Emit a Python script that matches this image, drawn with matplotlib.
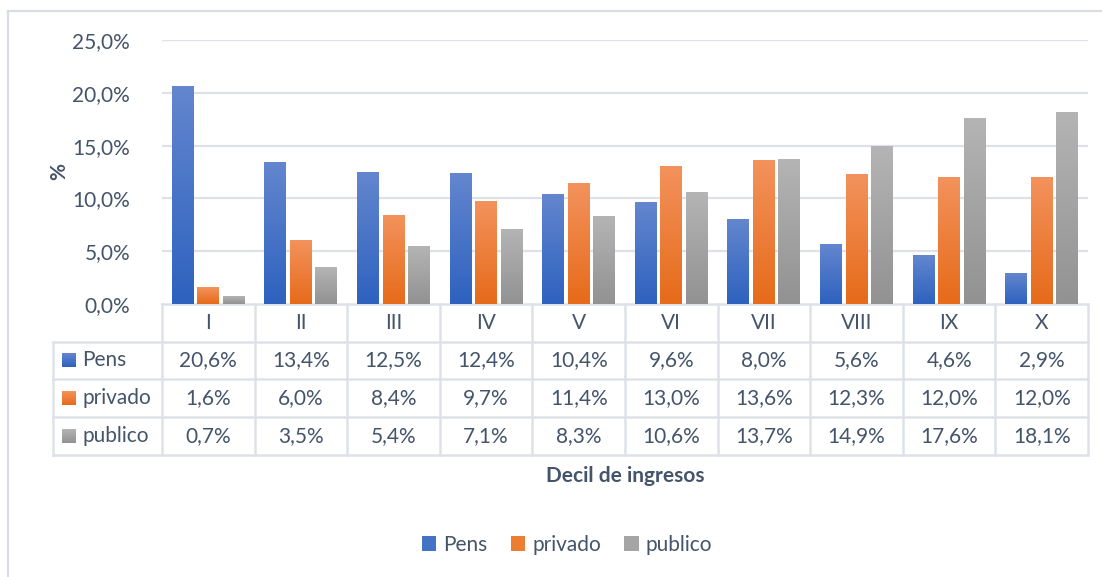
import numpy as np
import matplotlib
matplotlib.use("Agg")
import matplotlib.pyplot as plt
from matplotlib.transforms import blended_transform_factory
from matplotlib.lines import Line2D
from matplotlib.patches import Rectangle

categories = ["I", "II", "III", "IV", "V", "VI", "VII", "VIII", "IX", "X"]
series_names = ["Pens", "privado", "publico"]
pens = [20.6, 13.4, 12.5, 12.4, 10.4, 9.6, 8.0, 5.6, 4.6, 2.9]
privado = [1.6, 6.0, 8.4, 9.7, 11.4, 13.0, 13.6, 12.3, 12.0, 12.0]
publico = [0.7, 3.5, 5.4, 7.1, 8.3, 10.6, 13.7, 14.9, 17.6, 18.1]
yticks = [0, 5, 10, 15, 20, 25]

series = [pens, privado, publico]
grads = [("#6386CE", "#2E62BF"), ("#F3925C", "#E66B1A"), ("#B4B4B4", "#929292")]
mids = ["#4472C4", "#ED7D31", "#A5A5A5"]
TXT = "#44546A"
GRID = "#DEE2E8"
FONT = ["Lato", "DejaVu Sans"]
FS = 15

plt.rcParams['font.family'] = FONT

W, H = 1102, 577
fig = plt.figure(figsize=(W / 100, H / 100), dpi=100)

def fx(px):
    return px / W

def fy(py):
    return 1 - py / H

def grad(ctop, cbot, nsteps=64):
    ct = np.array(matplotlib.colors.to_rgb(ctop))
    cb = np.array(matplotlib.colors.to_rgb(cbot))
    t = np.linspace(0, 1, nsteps)[:, None]
    return (ct[None, :] * (1 - t) + cb[None, :] * t)[:, None, :]

ax = fig.add_axes([fx(162), fy(304), fx(1088) - fx(162), fy(40) - fy(304)])
n = len(categories)
x = np.arange(n)
bw = 0.237
off = 0.275

for k, vals in enumerate(series):
    bars = ax.bar(x + (k - 1) * off, vals, width=bw, color="none",
                  edgecolor="none", zorder=3)
    img = grad(*grads[k])
    for b in bars:
        x0 = b.get_x()
        ax.imshow(img, extent=(x0, x0 + b.get_width(), 0, b.get_height()),
                  origin="upper", aspect="auto", interpolation="bilinear",
                  zorder=3)

ax.set_xlim(-0.5, n - 0.5)
ax.set_ylim(0, 25)
ax.set_yticks(yticks)
ax.set_yticklabels([f"{v:.1f}%".replace(".", ",") for v in yticks],
                   fontsize=FS, color=TXT)
ax.tick_params(axis="y", length=0, pad=23)
ax.set_xticks([])
for s in ax.spines.values():
    s.set_visible(False)
for v in yticks[1:]:
    ax.axhline(v, color=GRID, lw=1.6, zorder=1)

ax.set_ylabel("%", fontsize=FS, fontweight="bold", color=TXT)
ax.yaxis.set_label_coords((69 - 162) / 926, 0.5)

# ---- data table ----
tr = blended_transform_factory(ax.transData, fig.transFigure)
rows_px = [304, 342, 379, 417, 455]
left_data = -0.5 - (162 - 53) / (926 / n)
lc = dict(color=GRID, lw=1.8, transform=tr, clip_on=False, zorder=2)

ax.add_line(Line2D([-0.5, n - 0.5], [fy(304)] * 2, **lc))
for py in rows_px[1:]:
    ax.add_line(Line2D([left_data, n - 0.5], [fy(py)] * 2, **lc))
for i in range(n + 1):
    ax.add_line(Line2D([i - 0.5] * 2, [fy(304), fy(455)], **lc))
ax.add_line(Line2D([left_data] * 2, [fy(342), fy(455)], **lc))

for i, c in enumerate(categories):
    ax.text(i, fy((304 + 342) / 2), c, transform=tr, ha="center", va="center",
            fontsize=FS, color=TXT, clip_on=False)

for r, vals in enumerate(series):
    yc = fy((rows_px[r + 1] + rows_px[r + 2]) / 2)
    for i, v in enumerate(vals):
        ax.text(i, yc, f"{v:.1f}%".replace(".", ","), transform=tr,
                ha="center", va="center", fontsize=FS, color=TXT, clip_on=False)

# overlay axes in pixel coords for row-label keys
pix = fig.add_axes([0, 0, 1, 1], zorder=-1)
pix.axis("off")
pix.patch.set_alpha(0)

for r, name in enumerate(series_names):
    yc = (rows_px[r + 1] + rows_px[r + 2]) / 2
    pix.imshow(grad(*grads[r], nsteps=32), extent=(62, 76, yc + 7, yc - 7),
               aspect="auto", interpolation="bilinear")
    pix.text(82, yc, name, ha="left", va="center", fontsize=FS, color=TXT)

pix.set_xlim(0, W)
pix.set_ylim(H, 0)

fig.text(fx(625), fy(476), "Decil de ingresos", ha="center", va="center",
         fontsize=FS, fontweight="bold", color=TXT)

handles = [Rectangle((0, 0), 1, 1, facecolor=mids[k], edgecolor="none")
           for k in range(3)]
fig.legend(handles, series_names, loc="center", ncol=3,
           bbox_to_anchor=(fx(567), fy(545)), frameon=False,
           fontsize=FS, handlelength=0.7, handleheight=0.7,
           handletextpad=0.35, columnspacing=1.1, labelcolor=TXT)

fig.add_artist(Line2D([fx(8), fx(8)], [fy(11), 0], color="#D9DDE3", lw=1.6,
                      transform=fig.transFigure))
fig.add_artist(Line2D([fx(8), 1], [fy(11), fy(11)], color="#D9DDE3", lw=1.6,
                      transform=fig.transFigure))

fig.savefig("out.png", dpi=100)
